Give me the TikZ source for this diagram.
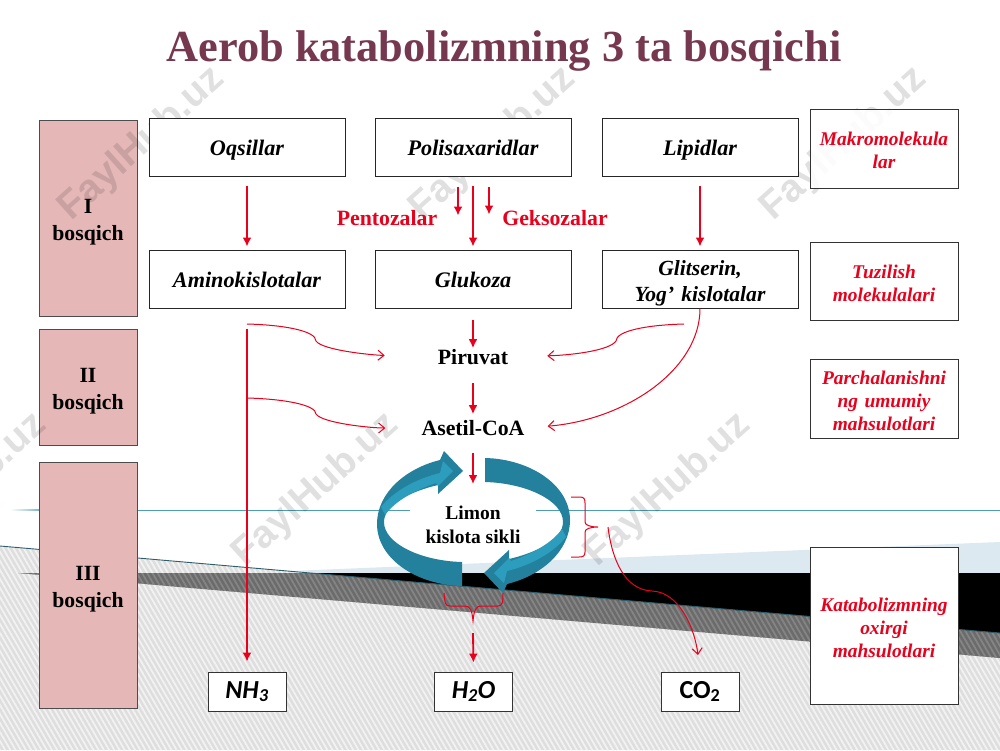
\documentclass[tikz,border=0pt]{standalone}
\usepackage{fontspec}
\setmainfont{Liberation Serif}
\newfontfamily\wmfont{Liberation Sans}
\newfontfamily\calfont{Carlito}
\usetikzlibrary{
  arrows.meta,
  positioning,
  patterns.meta
}
\definecolor{titlered}{HTML}{76384F}
\definecolor{stagepink}{HTML}{E5B8B7}
\definecolor{ringdark}{HTML}{23819D}
\definecolor{ringlight}{HTML}{2D9DBE}
\definecolor{linered}{HTML}{E8001C}
\definecolor{seamteal}{HTML}{4F9DB0}
\definecolor{paleblue}{HTML}{DCE9F0}

\begin{document}
\begin{tikzpicture}[
  x=1pt, y=-1pt,
  stage/.style={draw=black!70, line width=0.9pt, fill=stagepink, align=center, minimum width=98pt,
    text width=94pt, inner sep=1pt,
    execute at begin node={\rule{0pt}{23.5pt}},
    font=\fontsize{21.7}{27}\selectfont\bfseries},
  box/.style={draw=black!85, line width=1pt, fill=white, align=center, minimum width=196pt, minimum height=58pt,
    inner sep=1pt, font=\fontsize{22.2}{26}\selectfont\bfseries\itshape},
  oneline/.style={text height=20pt, text depth=4pt},
  tag/.style={draw=black!80, line width=0.9pt, fill=white, fill opacity=0.9, text opacity=1, align=center,
    minimum width=148pt, text width=144pt, inner sep=1pt, text=linered,
    execute at begin node={\rule{0pt}{18pt}},
    font=\fontsize{19.4}{23}\selectfont\bfseries\itshape},
  product/.style={draw=black!80, line width=0.9pt, fill=white, minimum width=78pt, minimum height=39pt, inner sep=0pt,
    font=\fontsize{26}{28}\selectfont\calfont\bfseries},
  midtext/.style={inner sep=0pt, font=\fontsize{21.8}{25}\selectfont\bfseries},
  redtext/.style={inner sep=0pt, text=linered, font=\fontsize{21.8}{25}\selectfont\bfseries},
  arr/.style={-{Latex[length=9pt,width=9pt]}, draw=linered, line width=1.8pt},
  thin arr/.style={-{Straight Barb[length=6pt,width=10pt]}, draw=linered, line width=1pt},
  brace/.style={draw=linered, line width=1pt},
  mark text/.style={text=black, text opacity=0.12, font=\fontsize{39}{39}\selectfont\wmfont\bfseries, rotate=42, inner sep=0pt},
  hatch/.style={pattern={Lines[angle=-60,distance=4.5pt,line width=1.8pt]}}
]
\useasboundingbox (0,0) rectangle (1000,750);

% Background
\fill[white] (0,0) rectangle (1000,750);
\fill[black!13] (0,546) -- (1000,633) -- (1000,750) -- (0,750) -- cycle;
\fill[hatch, pattern color=black!5] (0,546) -- (1000,633) -- (1000,750) -- (0,750) -- cycle;
\fill[paleblue] (290,571) -- (1000,542) -- (1000,573) -- (290,573) -- cycle;
\fill[black!58] (18,573) -- (311,573) -- (1000,633) -- (1000,658) -- cycle;
\fill[hatch, pattern color=black!48] (18,573) -- (311,573) -- (1000,633) -- (1000,658) -- cycle;
\fill[black] (311,573) -- (1000,573) -- (1000,633) -- cycle;
\draw[seamteal!60!black, line width=0.9pt] (0,546) -- (1000,633);
\draw[seamteal, line width=0.8pt] (50,510) -- (1000,510);
\shade[left color=white, right color=seamteal] (10,509.6) rectangle (50,510.4);

% Stage columns
\node[stage, minimum height=196pt] (first) at (88,218) {I\\bosqich};
\node[stage, minimum height=116pt] (second) at (88,387) {II\\bosqich};
\node[stage, minimum height=246pt] (third) at (88,585) {III\\bosqich};

% Watermark
\foreach \mx/\my in {142/144, 493/144, 844/144, 316/490, 668/490, -36/490}
  \node[mark text] at (\mx,\my) {FaylHub.uz};

% Title
\node[inner sep=0pt, text=titlered, font=\fontsize{44.4}{48}\selectfont\bfseries] (title) at (504,51)
  {Aerob katabolizmning 3 ta bosqichi};

% Top rows
\node[box, oneline] (oqsillar) at (247,147) {Oqsillar};
\node[box, oneline, right=29pt of oqsillar] (polisax) {Polisaxaridlar};
\node[box, oneline, right=30pt of polisax] (lipid) {Lipidlar};
\node[box, oneline, below=73pt of oqsillar] (amino) {Aminokislotalar};
\node[box, oneline, below=73pt of polisax] (glukoza) {Glukoza};
\node[box, below=73pt of lipid, text width=190pt, execute at begin node={\rule{0pt}{23pt}},
  font=\fontsize{21.6}{26}\selectfont\bfseries\itshape] (glitserin) {Glitserin,\\Yog’ kislotalar};

% Right column
\node[tag, minimum height=79pt] (makro) at (884,148.5) {Makromolekula\\lar};
\node[tag, minimum height=78pt] (tuzilish) at (884,281) {Tuzilish\\molekulalari};
\node[tag, minimum height=79pt] (parch) at (884,398.5) {Parchalanishni\\ng umumiy\\mahsulotlari};
\node[tag, minimum height=157pt, fill opacity=1] (oxirgi) at (884,625.5) {Katabolizmning\\oxirgi\\mahsulotlari};

% Middle texts
\node[redtext] (pentoza) at (387,218) {Pentozalar};
\node[redtext] (geksoza) at (555,218) {Geksozalar};
\node[midtext] (piruvat) at (473,357) {Piruvat};
\node[midtext] (asetil) at (473,428) {Asetil-CoA};
\node[fill=white, inner sep=0pt, minimum width=126pt, align=center,
  font=\fontsize{19.5}{24}\selectfont\bfseries] (limon) at (473,525) {Limon\\kislota sikli};

% Cycle arrows
\foreach \turn in {0,180} {
  \begin{scope}[rotate around={\turn:(473.5,522)}]
    \fill[ringdark] (485,458) .. controls (530,459) and (570,485) .. (570,520)
      .. controls (570,552) and (540,576) .. (507,584) -- (503,593) -- (484,573) -- (509,550) -- (509,559)
      .. controls (535,553) and (563,540) .. (563,522) .. controls (563,500) and (525,483) .. (485,482) -- cycle;
    \fill[ringlight] (562,529) .. controls (552,543) and (532,554) .. (511,561) -- (509,558) -- (494,573)
      -- (504,583) -- (507,571) .. controls (532,565) and (554,552) .. (566,537) -- cycle;
  \end{scope}
}

% Products
\node[product] (nh3) at (247,691.5) {\itshape NH\textsubscript{\itshape 3}};
\node[product] (h2o) at (473.5,691.5) {\itshape H\textsubscript{2}O};
\node[product] (co2) at (700,691.5) {CO\textsubscript{2}};

% Free ends
\coordinate (limonTop) at (473,484);
\coordinate (braceTip) at (473,633);
\coordinate (amBranchA) at (247,324);
\coordinate (amBranchB) at (247,398);
\coordinate (fatBranch) at (684,324);
\coordinate (cycleOut) at (608,527);
\coordinate (co2End) at (698,655);

% Arrows
\draw[arr, shorten <=9pt, shorten >=3pt] (oqsillar.south) -- (amino.north);
\draw[arr, shorten <=9pt, shorten >=3pt] (polisax.south) -- (glukoza.north);
\draw[arr, shorten <=9pt, shorten >=3pt] (lipid.south) -- (glitserin.north);
\draw[arr, shorten <=10pt] ([xshift=-15pt]polisax.south) -- ++(0,39);
\draw[arr, shorten <=10pt] ([xshift=16pt]polisax.south) -- ++(0,38);
\draw[arr, shorten <=11pt, shorten >=1pt] (glukoza.south) -- (piruvat.north);
\draw[arr, shorten <=18pt, shorten >=6pt] (piruvat.south) -- (asetil.north);
\draw[arr, shorten <=17pt] (asetil.south) -- (limonTop);
\draw[arr, shorten <=20pt, shorten >=10pt] (amino.south) -- (nh3.north);
\draw[arr, shorten >=9pt] (braceTip) -- (h2o.north);

% Thin curves
\draw[thin arr, shorten >=53pt] (amBranchA) .. controls (285,325) and (316,331) .. (316,341)
  .. controls (322,350) and (370,355) .. (piruvat.west);
\draw[thin arr, shorten >=36pt] (amBranchB) .. controls (285,399) and (316,405) .. (316,414)
  .. controls (322,423) and (370,428) .. (asetil.west);
\draw[thin arr, shorten >=39pt] (fatBranch) .. controls (646,325) and (616,331) .. (616,341)
  .. controls (610,350) and (575,355) .. (piruvat.east);
\draw[thin arr, shorten >=23pt] (glitserin.south) .. controls (700,370) and (625,420) .. (asetil.east);
\draw[thin arr] (cycleOut) .. controls (612,560) and (625,590) .. (652,591)
  .. controls (680,592) and (695,630) .. (co2End);

% Brackets
\draw[brace] (571,497) -- (580,497) .. controls (584,497) and (585,499) .. (585,503) -- (585,522)
  .. controls (585,525) and (590,527) .. (598,527) .. controls (590,527) and (585,529) .. (585,532)
  -- (585,552) .. controls (585,556) and (583,557) .. (579,557) -- (571,557);
\draw[brace] (444,593) .. controls (445,603) and (445,606) .. (450,606) -- (465,606)
  .. controls (470,606) and (472,610) .. (473,621) .. controls (474,610) and (476,606) .. (481,606)
  -- (498,606) .. controls (502,606) and (503,603) .. (503,593);

\end{tikzpicture}
\end{document}
